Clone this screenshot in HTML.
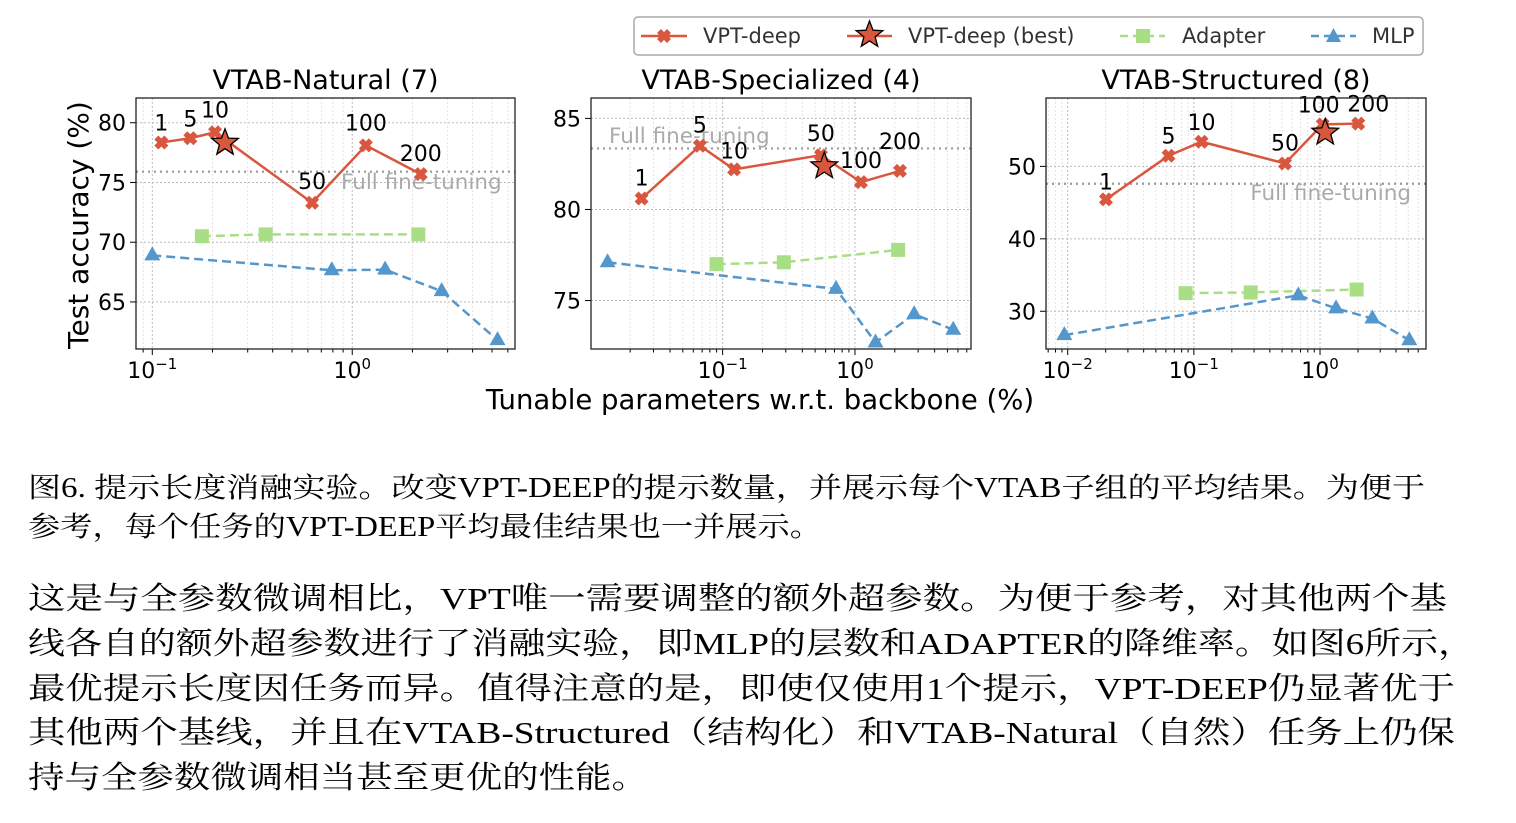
<!DOCTYPE html>
<html><head><meta charset="utf-8"><style>
html,body{margin:0;padding:0;background:#fff;}
svg{display:block;}
</style></head><body>
<svg id="chart" width="1516" height="823" viewBox="0 0 1516 823" xmlns="http://www.w3.org/2000/svg" font-family="'DejaVu Sans','Liberation Sans',sans-serif">
<g id="legend">
  <rect x="634" y="17" width="789" height="38" rx="4" fill="#fff" stroke="#aaa" stroke-width="1.5"/>
  <g>
    <line x1="641" y1="36" x2="687" y2="36" stroke="#d9573f" stroke-width="2.5"/>
    <path d="M-3,-7 L0,-4 L3,-7 L7,-3 L4,0 L7,3 L3,7 L0,4 L-3,7 L-7,3 L-4,0 L-7,-3 Z" transform="translate(664,36)" fill="#d9573f"/>
    <text x="703" y="43" font-size="21" fill="#333">VPT-deep</text>
  </g>
  <g>
    <line x1="847" y1="36" x2="892" y2="36" stroke="#d9573f" stroke-width="2.5"/>
    <polygon id="legstar" fill="#d9573f" stroke="#000" stroke-width="1.3"/>
    <text x="908" y="43" font-size="21" fill="#333">VPT-deep (best)</text>
  </g>
  <g>
    <line x1="1120" y1="36" x2="1165" y2="36" stroke="#a9df84" stroke-width="2.5" stroke-dasharray="8,5"/>
    <rect x="1136" y="29" width="14" height="14" fill="#a9df84"/>
    <text x="1182" y="43" font-size="21" fill="#333">Adapter</text>
  </g>
  <g>
    <line x1="1311" y1="36" x2="1356" y2="36" stroke="#5497cd" stroke-width="2.5" stroke-dasharray="8,5"/>
    <polygon points="1333.5,28 1341,42 1326,42" fill="#5497cd"/>
    <text x="1372" y="43" font-size="21" fill="#333">MLP</text>
  </g>
</g>
<g id="panels"></g>
<text x="0" y="0" font-size="28" fill="#000" text-anchor="middle" transform="translate(88,225) rotate(-90)">Test accuracy (%)</text>
<text x="760" y="409" font-size="27.5" fill="#000" text-anchor="middle">Tunable parameters w.r.t. backbone (%)</text>
<g font-family="'Liberation Serif','Noto Serif CJK SC',serif" font-size="28" fill="#000">
  <text x="28" y="497" textLength="1397" lengthAdjust="spacingAndGlyphs">图6. 提示长度消融实验。改变VPT-DEEP的提示数量，并展示每个VTAB子组的平均结果。为便于</text>
  <text x="28" y="536" textLength="794" lengthAdjust="spacingAndGlyphs">参考，每个任务的VPT-DEEP平均最佳结果也一并展示。</text>
</g>
<g font-family="'Liberation Serif','Noto Serif CJK SC',serif" font-size="31" fill="#000">
  <text x="28" y="609" textLength="1419" lengthAdjust="spacingAndGlyphs">这是与全参数微调相比，VPT唯一需要调整的额外超参数。为便于参考，对其他两个基</text>
  <text x="28" y="654" textLength="1447" lengthAdjust="spacingAndGlyphs">线各自的额外超参数进行了消融实验，即MLP的层数和ADAPTER的降维率。如图6所示，</text>
  <text x="28" y="699" textLength="1427" lengthAdjust="spacingAndGlyphs">最优提示长度因任务而异。值得注意的是，即使仅使用1个提示，VPT-DEEP仍显著优于</text>
  <text x="28" y="743" textLength="1427" lengthAdjust="spacingAndGlyphs">其他两个基线，并且在VTAB-Structured（结构化）和VTAB-Natural（自然）任务上仍保</text>
  <text x="28" y="788" textLength="620" lengthAdjust="spacingAndGlyphs">持与全参数微调相当甚至更优的性能。</text>
</g>
</svg>
<script>
// ---- Panel 1: VTAB-Natural (7)
const natVptX = [0.111, 0.155, 0.206, 0.63, 1.17, 2.2];
const natVptY = [78.35, 78.7, 79.2, 73.3, 78.1, 75.7];
const natBestX = [0.231];
const natBestY = [78.4];
const natAdapterX = [0.177, 0.369, 2.14];
const natAdapterY = [70.5, 70.65, 70.65];
const natMlpX = [0.1, 0.79, 1.46, 2.8, 5.33];
const natMlpY = [68.9, 67.65, 67.7, 65.9, 61.8];
const natFull = 75.9;
const natYTicks = [65, 70, 75, 80];
// ---- Panel 2: VTAB-Specialized (4)
const speVptX = [0.0244, 0.0673, 0.122, 0.553, 1.11, 2.19];
const speVptY = [80.6, 83.5, 82.2, 82.98, 81.5, 82.12];
const speBestX = [0.586];
const speBestY = [82.43];
const speAdapterX = [0.090, 0.290, 2.12];
const speAdapterY = [77.0, 77.1, 77.78];
const speMlpX = [0.0135, 0.719, 1.43, 2.8, 5.53];
const speMlpY = [77.1, 75.64, 72.7, 74.25, 73.4];
const speFull = 83.35;
const speYTicks = [75, 80, 85];
// ---- Panel 3: VTAB-Structured (8)
const strVptX = [0.0201, 0.063, 0.115, 0.528, 1.05, 2.01];
const strVptY = [45.44, 51.47, 53.4, 50.4, 55.8, 55.9];
const strBestX = [1.1];
const strBestY = [54.8];
const strAdapterX = [0.086, 0.282, 1.95];
const strAdapterY = [32.5, 32.6, 33.0];
const strMlpX = [0.0094, 0.673, 1.34, 2.6, 5.1];
const strMlpY = [26.7, 32.2, 30.4, 29.0, 26.0];
const strFull = 47.6;
const strYTicks = [30, 40, 50];
const promptLabels = ["1", "5", "10", "50", "100", "200"];

const NS = "http://www.w3.org/2000/svg";
const RED = "#d9573f", GREEN = "#a9df84", BLUE = "#5497cd";
function mk(tag, attrs, parent){ const e=document.createElementNS(NS,tag); for(const k in attrs) e.setAttribute(k,attrs[k]); parent.appendChild(e); return e; }
function starPts(cx,cy,R){ const r=R*0.42; let p=[]; for(let i=0;i<10;i++){ const a=-Math.PI/2+i*Math.PI/5; const rr=i%2?r:R; p.push((cx+rr*Math.cos(a)).toFixed(1)+","+(cy+rr*Math.sin(a)).toFixed(1)); } return p.join(" "); }
document.getElementById('legstar').setAttribute('points', starPts(869.5,35,14));

const panels = [
 {name:"natural", title:"VTAB-Natural (7)", box:[136,98,515,349], xl:[-1.0815,0.814], yl:[61.06,82.07], vx:natVptX, vy:natVptY, bx:natBestX, by:natBestY, ax:natAdapterX, ay:natAdapterY, mx:natMlpX, my:natMlpY, full:natFull, yt:natYTicks, xt:[-1,0], ftx:341, fty:189, ftAnchor:"start", lab:[[0,-12],[0,-12],[0,-15],[0,-14],[0,-15],[0,-13]]},
 {name:"specialized", title:"VTAB-Specialized (4)", box:[591,98,971,349], xl:[-1.995,0.877], yl:[72.34,86.12], vx:speVptX, vy:speVptY, bx:speBestX, by:speBestY, ax:speAdapterX, ay:speAdapterY, mx:speMlpX, my:speMlpY, full:speFull, yt:speYTicks, xt:[-1,0], ftx:609, fty:143, ftAnchor:"start", lab:[[0,-13],[0,-13],[0,-11],[0,-14],[0,-14],[0,-22]]},
 {name:"structured", title:"VTAB-Structured (8)", box:[1046,98,1426,349], xl:[-2.172,0.840], yl:[24.79,59.44], vx:strVptX, vy:strVptY, bx:strBestX, by:strBestY, ax:strAdapterX, ay:strAdapterY, mx:strMlpX, my:strMlpY, full:strFull, yt:strYTicks, xt:[-2,-1,0], ftx:1411, fty:200, ftAnchor:"end", lab:[[0,-10],[0,-12],[0,-12],[0,-13],[-4,-12],[10,-12]]}
];
const root = document.getElementById('panels');
panels.forEach(P=>{
  const [x0,y0,x1,y1]=P.box;
  const sx = v => x0 + (Math.log10(v)-P.xl[0])/(P.xl[1]-P.xl[0])*(x1-x0);
  const sxl = l => x0 + (l-P.xl[0])/(P.xl[1]-P.xl[0])*(x1-x0);
  const sy = v => y1 - (v-P.yl[0])/(P.yl[1]-P.yl[0])*(y1-y0);
  const g = mk('g',{},root);
  
  
  const grid = mk('g',{},g);
  
  
  for(let d=Math.floor(P.xl[0]); d<=Math.ceil(P.xl[1]); d++){
    for(let m=1;m<10;m++){
      const l=d+Math.log10(m); if(l<P.xl[0]||l>P.xl[1]) continue;
      const X=sxl(l);
      mk('line',{x1:X,y1:y0,x2:X,y2:y1,stroke:m===1?"#bbb":"#ddd","stroke-width":m===1?1:0.8,"stroke-dasharray":"2,2"},grid);
      mk('line',{x1:X,y1:y1,x2:X,y2:y1+(m===1?6:3.5),stroke:"#000","stroke-width":1},grid);
    }
  }
  P.yt.forEach(t=>{ const Y=sy(t);
    mk('line',{x1:x0,y1:Y,x2:x1,y2:Y,stroke:"#bbb","stroke-width":1,"stroke-dasharray":"2,2"},grid);
    mk('line',{x1:x0-6,y1:Y,x2:x0,y2:Y,stroke:"#000","stroke-width":1},grid);
    const tl=mk('text',{x:x0-10,y:Y+8,"font-size":22,"text-anchor":"end",fill:"#000"},grid); tl.textContent=t;
    
    
  });
  P.xt.forEach(l=>{ const X=sxl(l);
    const tl=mk('text',{x:X,y:y1+29,"font-size":22,"text-anchor":"middle",fill:"#000"},grid);
    
    
    tl.appendChild(document.createTextNode("10"));
    const sup=mk('tspan',{dy:-9,"font-size":15},tl); sup.textContent=(l<0?"\u2212"+(-l):""+l);
  });
  const fy=sy(P.full);
  const fl=mk('line',{x1:x0,y1:fy,x2:x1,y2:fy,stroke:"#999","stroke-width":2.2,"stroke-dasharray":"2,4"},g);
  
  
  const ft=mk('text',{x:P.ftx,y:P.fty,"font-size":21.5,fill:"#aaa","text-anchor":P.ftAnchor},g); ft.textContent="Full fine-tuning";
  
  
  const ap=P.ax.map((v,i)=>sx(v)+","+sy(P.ay[i])).join(" ");
  const al=mk('polyline',{points:ap,fill:"none",stroke:GREEN,"stroke-width":2.5,"stroke-dasharray":"9,5"},g);
  
  
  P.ax.forEach((v,i)=>{ const r=mk('rect',{x:sx(v)-7,y:sy(P.ay[i])-7,width:14,height:14,fill:GREEN},g);
    
     });
  const mp=P.mx.map((v,i)=>sx(v)+","+sy(P.my[i])).join(" ");
  const ml=mk('polyline',{points:mp,fill:"none",stroke:BLUE,"stroke-width":2.5,"stroke-dasharray":"9,5"},g);
  
  
  P.mx.forEach((v,i)=>{ const X=sx(v),Y=sy(P.my[i]);
    const t=mk('polygon',{points:`${X},${Y-9} ${X+8},${Y+5} ${X-8},${Y+5}`,fill:BLUE},g);
    
     });
  const vp=P.vx.map((v,i)=>sx(v)+","+sy(P.vy[i])).join(" ");
  const vl=mk('polyline',{points:vp,fill:"none",stroke:RED,"stroke-width":2.5},g);
  
  
  P.vx.forEach((v,i)=>{ const X=sx(v),Y=sy(P.vy[i]);
    const m=mk('path',{d:"M-3,-7 L0,-4 L3,-7 L7,-3 L4,0 L7,3 L3,7 L0,4 L-3,7 L-7,3 L-4,0 L-7,-3 Z",transform:`translate(${X},${Y})`,fill:RED},g);
    
    
    const o=P.lab[i];
    const t=mk('text',{x:X+o[0],y:Y+o[1],"font-size":22,"text-anchor":"middle",fill:"#000"},g); t.textContent=promptLabels[i];
    
    
  });
  P.bx.forEach((v,i)=>{ const s=mk('polygon',{points:starPts(sx(v),sy(P.by[i])+1,14),fill:RED,stroke:"#000","stroke-width":1.3},g);
    
     });
  const fr=mk('rect',{x:x0,y:y0,width:x1-x0,height:y1-y0,fill:"none",stroke:"#222","stroke-width":1.3},g);
  
  
  const ti=mk('text',{x:(x0+x1)/2,y:89,"font-size":27,"text-anchor":"middle",fill:"#000"},g); ti.textContent=P.title;
  
  
});
</script>
</body></html>
